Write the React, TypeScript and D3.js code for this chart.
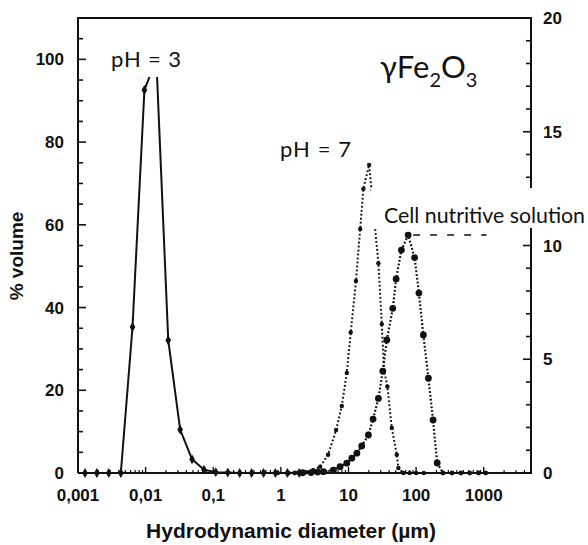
import React from "react";
import * as d3 from "d3";

// pH = 3 (solid, left axis, % volume)
const ph3Diam = [0.00127, 0.0019, 0.00285, 0.0043, 0.0064, 0.0096, 0.0144, 0.0216, 0.0324, 0.0486, 0.073, 0.109, 0.164, 0.246, 0.369, 0.554, 0.83, 1.25, 1.87];
const ph3Vol = [0, 0, 0, 0, 35.3, 92.6, 100, 32.1, 10.5, 3.3, 0.8, 0.2, 0.1, 0, 0, 0, 0, 0, 0];

// pH = 7 (dotted, left axis)
const ph7Diam = [0.9, 1.3, 1.8, 2.4, 2.99, 3.8, 4.99, 6.56, 7.96, 9.44, 10.8, 12.9, 14.9, 16.6, 20.2, 27.7, 31.1, 33.6, 37.6, 43.7, 51.8, 54.7, 65, 80, 100, 130];
const ph7Vol = [0, 0, 0.1, 0.2, 0.7, 1.5, 4.4, 10.4, 16.2, 24.2, 34.0, 46.4, 59.0, 68.7, 74.5, 50.7, 36, 24.7, 20.9, 10.9, 4.4, 1.2, 0, 0, 0, 0];

// Cell nutritive solution (dotted, right axis)
const cellDiam = [1.6, 2.1, 2.8, 3.5, 4.25, 5.98, 7.51, 9.44, 11.2, 13.3, 15.7, 19.7, 23.1, 27.7, 32.1, 36.9, 45.2, 50.6, 60.6, 76.2, 95.0, 110, 128, 152, 178, 205, 250, 340, 460, 620, 840, 1070];
const cellVol = [0, 0.01, 0.02, 0.04, 0.06, 0.13, 0.28, 0.43, 0.65, 0.87, 1.19, 1.67, 2.37, 3.28, 4.48, 5.85, 7.24, 8.53, 9.8, 10.46, 9.47, 7.91, 6.07, 4.17, 2.33, 0.44, 0, 0, 0, 0, 0, 0];
const cellLeaderEnd = 1100;

const xTickValues = [0.001, 0.01, 0.1, 1, 10, 100, 1000];
const xTickLabels = ["0,001", "0,01", "0,1", "1", "10", "100", "1000"];
const leftTicks = [0, 20, 40, 60, 80, 100];
const rightTicks = [0, 5, 10, 15, 20];

const W = 588, H = 545;
const left = 78, right = 531, top = 18, bottom = 473;
const ink = "#111";
const axisFont = "'Liberation Sans', Arial, sans-serif";
const noteFont = "Lato, 'Open Sans', sans-serif";

export default function App() {
  const x = d3.scaleLog().domain([0.001, 5000]).range([left, right]);
  const yL = d3.scaleLinear().domain([0, 110]).range([bottom, top]);
  const yR = d3.scaleLinear().domain([0, 20]).range([bottom, top]);

  const ph3 = ph3Diam.map((d, i) => [d, ph3Vol[i]] as [number, number]);
  const ph7 = ph7Diam.map((d, i) => [d, ph7Vol[i]] as [number, number]);
  const cell = cellDiam.map((d, i) => [d, cellVol[i]] as [number, number]);

  const lineL = d3.line<[number, number]>().x(p => x(p[0])).y(p => yL(p[1]));
  const lineR = d3.line<[number, number]>().x(p => x(p[0])).y(p => yR(p[1]));
  const diamond = d3.symbol().type(d3.symbolDiamond).size(28)();

  const peak = cell[d3.maxIndex(cellVol)];

  // minor ticks
  const leftMinor = d3.range(0, 110, 5);
  const rightMinor = d3.range(0, 21, 1);
  const xMinor: number[] = [];
  for (let e = -3; e <= 3; e++) for (let k = 2; k <= 9; k++) {
    const v = k * Math.pow(10, e);
    if (v < 5000) xMinor.push(v);
  }

  return (
    <svg width={W} height={H} style={{ position: "absolute", left: 0, top: 0, background: "#fff" }}>
      {/* frame */}
      <path d={`M${left},${bottom}V${top}H${right}V${bottom}H${left}`} fill="none" stroke={ink} strokeWidth={2} />

      {/* left ticks */}
      {leftMinor.map(v => (
        <line key={"l" + v} x1={left} x2={left + (v % 20 === 0 ? 8 : 5)} y1={yL(v)} y2={yL(v)} stroke={ink} strokeWidth={1.6} />
      ))}
      {leftTicks.map(v => (
        <text key={"lt" + v} x={64} y={yL(v)} dy="0.36em" textAnchor="end" fontFamily={axisFont} fontWeight="bold" fontSize={17} fill={ink}>{v}</text>
      ))}

      {/* right ticks */}
      {rightMinor.map(v => (
        <line key={"r" + v} x1={right} x2={right - (v % 5 === 0 ? 8 : 5)} y1={yR(v)} y2={yR(v)} stroke={ink} strokeWidth={1.6} />
      ))}
      {rightTicks.map(v => (
        <text key={"rt" + v} x={543} y={yR(v)} dy="0.36em" textAnchor="start" fontFamily={axisFont} fontWeight="bold" fontSize={17} fill={ink}>{v}</text>
      ))}

      {/* bottom ticks */}
      {xMinor.map(v => (
        <line key={"xm" + v} x1={x(v)} x2={x(v)} y1={bottom} y2={bottom - 3} stroke={ink} strokeWidth={1.2} />
      ))}
      {xTickValues.map((v, i) => (
        <g key={"xt" + v}>
          <line x1={x(v)} x2={x(v)} y1={bottom} y2={bottom - 6} stroke={ink} strokeWidth={1.4} />
          <text x={x(v)} y={501} textAnchor="middle" fontFamily={axisFont} fontWeight="bold" fontSize={17} fill={ink}>{xTickLabels[i]}</text>
        </g>
      ))}

      {/* axis titles */}
      <text x={291} y={538} textAnchor="middle" fontFamily={axisFont} fontWeight="bold" fontSize={21} fill={ink}>Hydrodynamic diameter (µm)</text>
      <text transform="translate(23,256) rotate(-90)" textAnchor="middle" fontFamily={axisFont} fontWeight="bold" fontSize={19} fill={ink}>% volume</text>

      {/* pH = 3 */}
      <path d={lineL(ph3) || ""} fill="none" stroke={ink} strokeWidth={2} />
      {ph3.map((p, i) => (
        <path key={"p3" + i} d={diamond} transform={`translate(${x(p[0])},${yL(p[1])})`} fill={ink} />
      ))}

      {/* pH = 7 */}
      <path d={lineL(ph7) || ""} fill="none" stroke={ink} strokeWidth={2} strokeDasharray="1.8 2.2" />
      {ph7.map((p, i) => (
        <circle key={"p7" + i} cx={x(p[0])} cy={yL(p[1])} r={2.2} fill={ink} />
      ))}

      {/* cell nutritive solution */}
      <path d={lineR(cell) || ""} fill="none" stroke={ink} strokeWidth={2.2} strokeDasharray="1.8 2" />
      {cell.map((p, i) => (
        <circle key={"c" + i} cx={x(p[0])} cy={yR(p[1])} r={p[1] > 0 ? 3.4 : 2.4} fill={ink} />
      ))}
      <line x1={x(peak[0]) + 5} x2={x(cellLeaderEnd)} y1={yR(peak[1])} y2={yR(peak[1])} stroke={ink} strokeWidth={1.6} strokeDasharray="7 10" />

      {/* annotation boxes */}
      <rect x={104} y={38} width={82} height={39} fill="#fff" />
      <rect x={371} y={188} width={217} height={40} fill="#fff" />

      <text x={111} y={67} fontFamily={noteFont} fontSize={22} fill={ink} textLength={70} lengthAdjust="spacing">pH = 3</text>
      <text x={280} y={157} fontFamily={noteFont} fontSize={22} fill={ink} textLength={71} lengthAdjust="spacing">pH = 7</text>
      <text x={384} y={223} fontFamily={noteFont} fontSize={21} fill={ink} textLength={201} lengthAdjust="spacingAndGlyphs">Cell nutritive solution</text>
      <text x={380} y={78} fontFamily={noteFont} fontSize={31} fill={ink}>
        γFe<tspan fontSize={20} dy={9}>2</tspan><tspan dy={-9}>O</tspan><tspan fontSize={20} dy={9}>3</tspan>
      </text>
    </svg>
  );
}
